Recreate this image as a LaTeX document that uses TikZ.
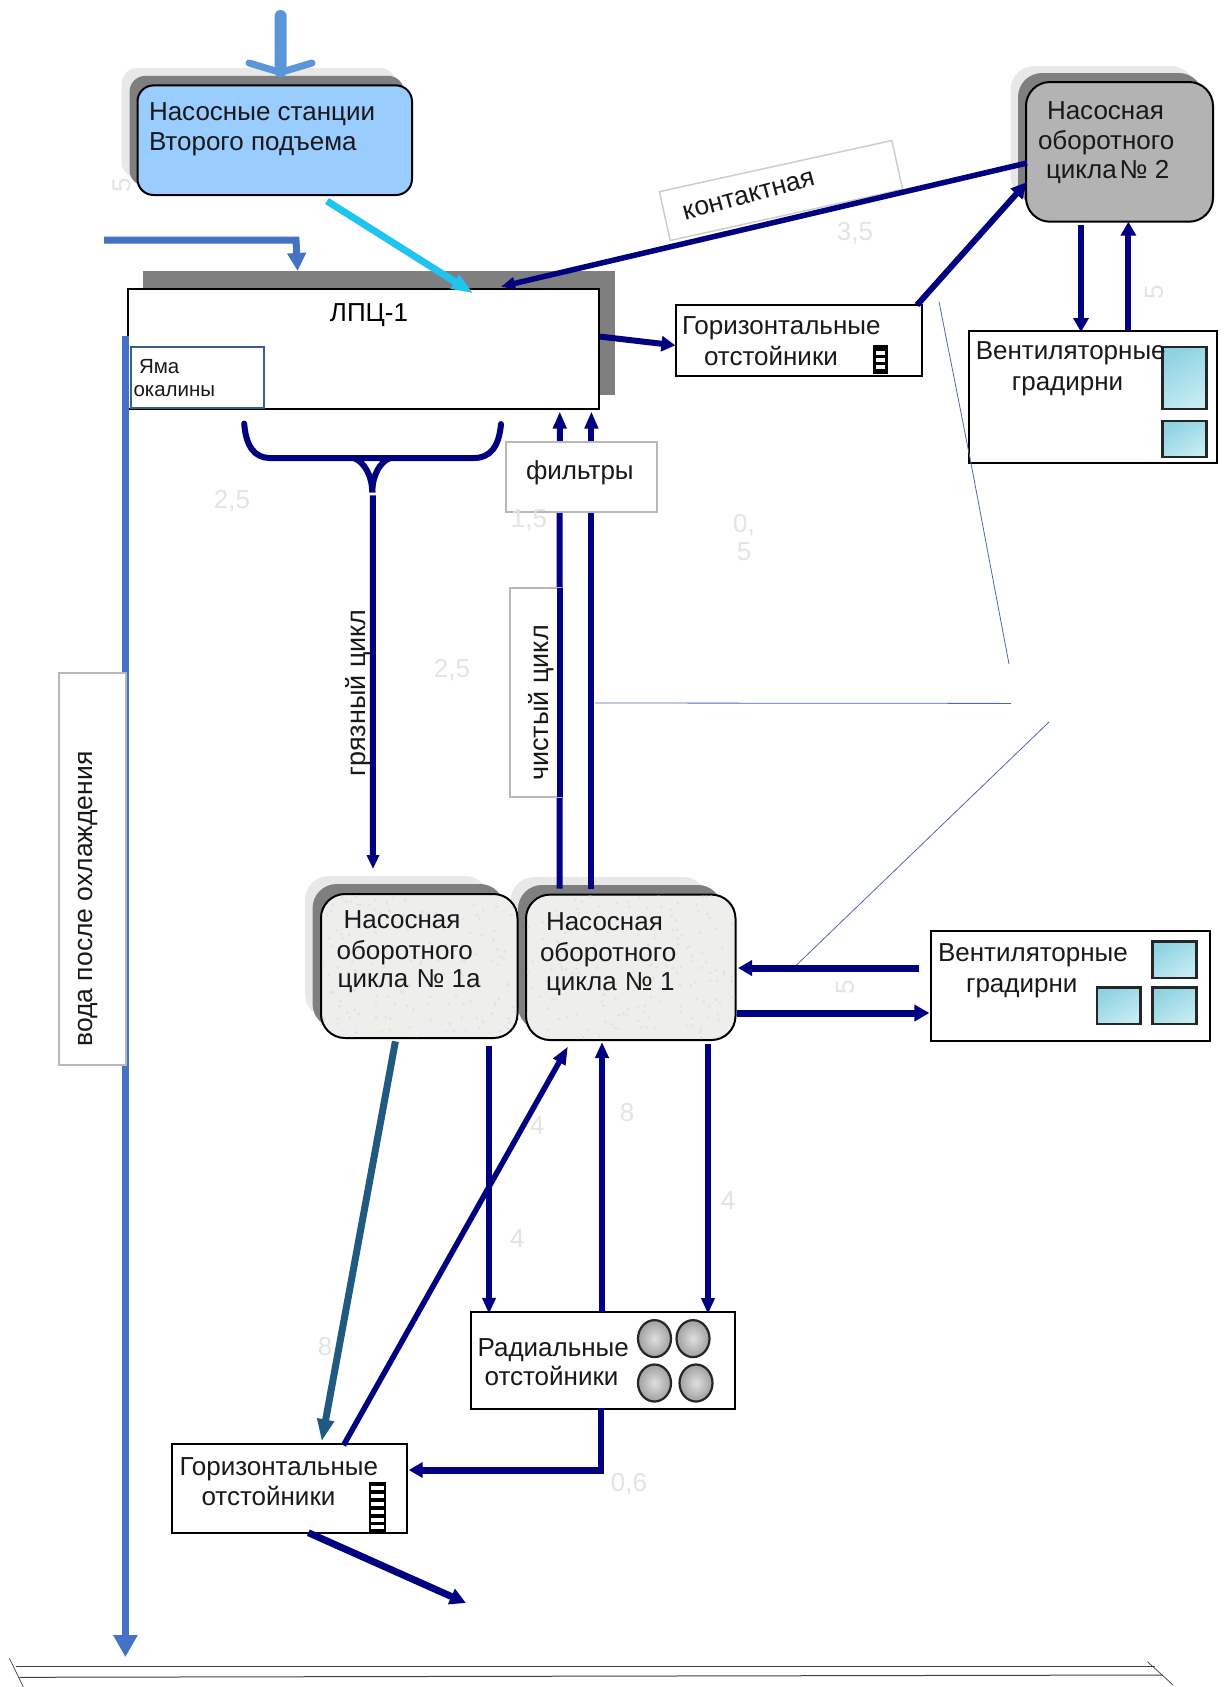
\documentclass[tikz,border=0pt]{standalone}
\usepackage{fontspec}
\setmainfont{Liberation Sans}
\usetikzlibrary{arrows.meta,calc}
\definecolor{navyflow}{HTML}{000080}
\definecolor{skyblue}{HTML}{99CCFF}
\definecolor{cyanflow}{HTML}{1FC5F0}
\definecolor{blueflow}{HTML}{4472C4}
\definecolor{topflow}{HTML}{5B96D8}
\definecolor{tealflow}{HTML}{215A80}
\definecolor{shadowdark}{HTML}{7F7F7F}
\definecolor{shadowhalo}{HTML}{E8E8E8}
\definecolor{thinblue}{HTML}{5068B0}
\definecolor{tilea}{HTML}{8FD2E2}
\definecolor{tileb}{HTML}{C4ECF2}
\definecolor{pumpgray}{HTML}{B3B3B3}
\definecolor{pumplight}{HTML}{EEEEEC}
\definecolor{framegray}{HTML}{B8B8B8}
\definecolor{ghostgray}{HTML}{E4E4E4}
\definecolor{pitblue}{HTML}{3A5F8A}
\newcommand\bx[6]{\pgfmathsetmacro\bw{#5-#3}\pgfmathsetmacro\bh{#6-#4}%
  \node[#2,anchor=north west,minimum width=\bw pt,minimum height=\bh pt,inner sep=0pt,outer sep=0pt] (#1) at (#3,#4) {};}
\tikzset{
  x=1pt,y=-1pt,
  txtsize/.style={font=\fontsize{26}{30}\selectfont},
  lbl/.style={txtsize,inner sep=0pt,outer sep=0pt,align=left,anchor=base west,text=black!90},
  vlbl/.style={font=\fontsize{27}{30}\selectfont,inner sep=0pt,outer sep=0pt,rotate=90,text=black!90},
  ghost/.style={font=\fontsize{26}{28}\selectfont,text=ghostgray,inner sep=0pt,align=center},
  plainbox/.style={draw=black,line width=2pt,fill=white},
  framebox/.style={draw=framegray,line width=2pt,fill=white},
  pumpbox/.style={draw=black,line width=2pt,rounded corners=24pt},
  tile/.style={draw=black!85,line width=2.2pt,left color=tilea,right color=tileb,shading angle=30},
  flow/.style={draw=navyflow,line width=6pt,-{Triangle[length=14pt,width=15pt]}},
  noflow/.style={draw=navyflow,line width=6pt},
  thin line/.style={draw=thinblue,line width=0.8pt},
  ground/.style={draw=black!75,line width=1pt},
}
\begin{document}
\begin{tikzpicture}
\useasboundingbox (0,0) rectangle (1224,1687);
\fill[white] (0,0) rectangle (1224,1687);

% shadows
\fill[shadowhalo,rounded corners=16pt] (121.6,68) rectangle (396,178);
\fill[shadowdark,rounded corners=16pt] (129.5,75.8) rectangle (404,186);
\fill[shadowhalo,rounded corners=24pt] (1010.5,66) rectangle (1195,200);
\fill[shadowdark,rounded corners=24pt] (1018,73) rectangle (1203,207);
\fill[shadowhalo,rounded corners=24pt] (305,876) rectangle (489,1018);
\fill[shadowdark,rounded corners=24pt] (312.6,884) rectangle (504,1028);
\fill[shadowhalo,rounded corners=24pt] (510.4,877) rectangle (707,1020);
\fill[shadowdark,rounded corners=24pt] (518,885) rectangle (722,1030);
\fill[shadowdark] (142.6,271) rectangle (615,395);

% main blocks
\bx{pumpA}{pumpbox,rounded corners=16pt,fill=skyblue}{137.5}{85.4}{412}{195}
\bx{lpc}{plainbox}{128.4}{288.6}{599}{409}
\bx{pit}{draw=pitblue,line width=2pt,fill=white}{130.7}{347}{264.4}{408.4}
\bx{pumpB}{pumpbox,fill=pumpgray}{1026}{82}{1213}{221.7}
\bx{pumpC}{pumpbox,fill=pumplight}{321}{894}{517.5}{1038}
\bx{pumpD}{pumpbox,fill=pumplight}{526}{894.6}{735.5}{1040}

% speckle on the concrete-like pump blocks
\pgfmathsetseed{7}
\begin{scope}
  \clip[rounded corners=24pt] (322,895) rectangle (516.5,1037);
  \foreach \i in {1,...,170} \fill[black!11] ({322+194*rnd},{895+142*rnd}) circle (1.6pt);
\end{scope}
\begin{scope}
  \clip[rounded corners=24pt] (527,895.6) rectangle (734.5,1039);
  \foreach \i in {1,...,180} \fill[black!11] ({527+207*rnd},{895+144*rnd}) circle (1.6pt);
\end{scope}

% thin lines
\coordinate (thinAa) at (939,301.7);
\coordinate (thinAb) at (1009,664);
\coordinate (thinBb) at (1011,703.4);
\coordinate (thinCa) at (1049,722);

% boxes
\node[framebox,draw=framegray!70,line width=1.5pt,rotate=12.4,minimum width=238pt,minimum height=50pt,inner sep=0pt] (contactbox) at (781,190.5) {};
\bx{settleA}{plainbox}{676.4}{305}{922}{375.7}
\bx{towerA}{plainbox}{969}{331}{1217}{463.3}
\bx{tileA}{tile}{1162.4}{347.3}{1206.4}{409}
\bx{tileB}{tile}{1162.4}{421}{1206.4}{457.3}
\bx{towerB}{plainbox}{931.4}{931}{1210}{1040.7}
\bx{tileC}{tile}{1152.4}{941.4}{1196.5}{978}
\bx{tileD}{tile}{1097}{987.5}{1140.5}{1024}
\bx{tileE}{tile}{1152.4}{987.5}{1196.5}{1024}
\bx{radial}{plainbox}{470.5}{1311.8}{735}{1409}
\bx{settleB}{plainbox}{171.7}{1444.3}{406.7}{1532.7}

% thin connector lines
\draw[thin line] (thinAa) -- ($(towerA.south west)+(2,0)$) -- (thinAb);
\draw[thin line] ($(lpc.south east)+(-4,294)$) -- (thinBb);
\draw[thin line] (thinCa) -- ($(towerB.north west)+(-138,37)$);

% left water line with its frame over it
\draw[draw=blueflow,line width=7pt,-{Triangle[length=22pt,width=23pt]}] ($(lpc.north west)+(-3,47)$) -- ++(0,1321.5) coordinate (outletA);
\bx{waterbox}{framebox}{58.5}{673}{126}{1065}

% ladder icons
\bx{ladderA}{fill=black}{872.5}{345}{888}{374}
\foreach \yy in {351,358,365} \fill[white] (875.5,\yy) rectangle (885,\yy+3.5);
\bx{ladderB}{fill=black}{368.5}{1481.7}{386.4}{1531.7}
\foreach \yy in {1486,1494,1502,1510,1518,1525} \fill[white] (371,\yy) rectangle (384,\yy+4);

% round settlers
\foreach \nm/\cx/\cy in {c1/654.5/1338.6,c2/693/1338.6,c3/654.5/1383,c4/696/1383}
  \shade[draw=black!85,line width=2.2pt,inner color=gray!25,outer color=gray!75] (\cx,\cy) ellipse [x radius=16.5pt,y radius=18.5pt];

% connectors
\draw[flow] ($(lpc.north east)+(1,48)$) -- ($(settleA.west)+(-1,5)$);
\draw[noflow,line width=5.5pt,{Triangle[length=14pt,width=12pt]}-] ($(lpc.north west)+(372.6,-2)$) -- ($(pumpB.north west)+(1,81)$);
\draw[noflow,-{Triangle[length=16pt,width=15pt]}] ($(settleA.north east)+(-5,0)$) -- ($(pumpB.north west)+(1,100)$);
\draw[flow] ($(pumpB.south west)+(55,3)$) -- ($(towerA.north west)+(112,1)$);
\draw[flow] ($(towerA.north west)+(159.4,0)$) -- ($(pumpB.south west)+(102.4,0)$);

% brace and dirty cycle
\coordinate (braceL) at (244.2,423.6);
\coordinate (braceR) at (501,424);
\coordinate (braceC) at (372.3,492.4);
\draw[draw=navyflow,line width=6pt,line cap=round] (braceL) .. controls (246,447) and (255,458) .. (270,458) -- (474,458) .. controls (490,458) and (499,447) .. (braceR);
\draw[draw=navyflow,line width=6pt] (354,458) .. controls (364,462) and (372,475) .. (braceC);
\draw[draw=navyflow,line width=6pt] (390,458) .. controls (380,462) and (372.3,475) .. (braceC);
\draw[draw=navyflow,line width=6pt,-{Triangle[length=14pt,width=12pt]}] ($(braceC)+(0.5,3)$) -- ($(pumpC.north west)+(52,-25)$);

% clean cycle
\draw[draw=navyflow,line width=6pt,-{Triangle[length=17pt,width=13pt]}] ($(pumpD.north west)+(33.5,-6)$) -- ($(lpc.south east)+(-39.2,2.5)$);
\draw[draw=navyflow,line width=6pt,-{Triangle[length=17pt,width=13pt]}] ($(pumpD.north west)+(65.4,-6)$) -- ($(lpc.south east)+(-7.6,2.5)$);
\bx{filters}{framebox}{506}{441.8}{656.6}{512}
\bx{cleanbox}{framebox}{510}{588}{561}{797}
\draw[draw=navyflow,line width=6pt] ($(cleanbox.north east)+(-1.2,0)$) -- ($(cleanbox.south east)+(-1.2,0)$);

% pump D connections
\draw[draw=navyflow,line width=7pt,-{Triangle[length=14pt,width=15pt]}] ($(towerB.north west)+(-12,37)$) -- ($(pumpD.east)+(2.5,0.7)$);
\draw[draw=navyflow,line width=7pt,-{Triangle[length=15pt,width=16pt]}] ($(pumpD.south east)+(1,-27)$) -- ($(towerB.north west)+(-2,82)$);
\draw[draw=tealflow,line width=7pt,-{Triangle[length=22pt,width=16pt]}] ($(pumpC.south west)+(74.4,3.4)$) -- ($(settleB.north west)+(150,-3)$);
\draw[draw=navyflow,line width=6pt,-{Triangle[length=16pt,width=13pt]}] ($(pumpC.south east)+(-28.5,8.4)$) -- ($(radial.north west)+(18.5,2)$);
\draw[draw=navyflow,line width=5.5pt,-{Triangle[length=18pt,width=13pt]}] ($(settleB.north west)+(171.8,1)$) -- ($(pumpD.south west)+(42,6.4)$);
\draw[draw=navyflow,line width=6pt,-{Triangle[length=16pt,width=13pt]}] ($(radial.north west)+(131.5,0)$) -- ($(pumpD.south west)+(76,2)$);
\draw[draw=navyflow,line width=6pt,-{Triangle[length=16pt,width=13pt]}] ($(pumpD.south east)+(-27.5,4)$) -- ($(radial.north east)+(-27,2.2)$);
\draw[draw=navyflow,line width=6pt] ($(radial.south west)+(130.5,-1)$) -- (601,1470);
\draw[draw=navyflow,line width=7pt,-{Triangle[length=14pt,width=15pt]}] (604,1470) -- ($(settleB.north east)+(2,25.7)$);
\draw[draw=navyflow,line width=7pt,-{Triangle[length=16pt,width=16pt]}] ($(settleB.south west)+(136.7,0)$) -- (466,1603) coordinate (outletB);

% input arrows
\coordinate (topStart) at (280.6,16);
\coordinate (sideStart) at (104,240);
\draw[draw=topflow,line width=12pt,line cap=round] (topStart) -- ($(pumpA.north west)+(143,-14)$);
\draw[draw=topflow,line width=7pt,line cap=round] (249,63) -- ($(pumpA.north west)+(143,-13)$) -- (312,63);
\draw[draw=cyanflow,line width=7pt,-{Triangle[length=22pt,width=15pt]}] ($(pumpA.south west)+(189.5,6)$) -- ($(lpc.north west)+(345,4.8)$);
\draw[draw=blueflow,line width=7pt,-{Triangle[length=18pt,width=18pt]}] (sideStart) -- (296,240) -- ($(lpc.north west)+(169.2,-17.6)$);

% ground
\coordinate (gA) at (15.6,1666);
\coordinate (gB) at (1155,1666);
\coordinate (gC) at (19.5,1677.3);
\coordinate (gD) at (1163,1675);
\coordinate (gE) at (9.4,1658.3);
\coordinate (gF) at (23.4,1687);
\coordinate (gG) at (1147.5,1661.7);
\coordinate (gH) at (1173,1685);
\draw[ground] (gA) -- (gB);
\draw[ground] (gC) -- (gD);
\draw[ground,line width=0.7pt] (gE) -- (gF);
\draw[ground,line width=0.7pt] (gG) -- (gH);

% labels (anchored at the baseline of the last line)
\node[lbl] (tPumpA) at (149,150.5) {Насосные станции\\Второго подъема};
\node[txtsize,inner sep=0pt] (tLpc) at (369,315) {ЛПЦ-1};
\node[lbl,font=\fontsize{20.5}{23}\selectfont] (tPit) at (133.5,396.7) {\hspace*{5.5pt}Яма\\окалины};
\node[lbl] (tPumpB) at (1046,178) {\hspace*{1pt}Насосная\\[-0.5pt]\hspace*{-8pt}оборотного\\[-1pt]цикла\hspace{3pt}№ 2};
\node[lbl,rotate=15,font=\fontsize{26.5}{30}\selectfont] (tContact) at (685,220) {контактная};
\node[lbl] (tSettleA) at (682,365) {Горизонтальные\\[1pt]\hspace*{22pt}отстойники};
\node[lbl] (tTowerA) at (975.8,390) {Вентиляторные\\[1pt]\hspace*{36pt}градирни};
\node[lbl] (tFilters) at (526,479) {фильтры};
\node[vlbl] (tDirty) at (358,693) {грязный цикл};
\node[vlbl] (tClean) at (541,703) {чистый цикл};
\node[vlbl,font=\fontsize{26.5}{30}\selectfont] (tWater) at (88,899) {вода после охлаждения};
\node[lbl] (tPumpC) at (343.6,987.5) {Насосная\\[0.5pt]\hspace*{-7pt}оборотного\\[-1.5pt]\hspace*{-6pt}цикла \hspace{1pt}№ 1а};
\node[lbl] (tPumpD) at (546,990) {Насосная\\[1pt]\hspace*{-6pt}оборотного\\[-1.5pt]цикла \hspace{1pt}№ 1};
\node[lbl] (tTowerB) at (938,992) {Вентиляторные\\[0.5pt]\hspace*{28pt}градирни};
\node[lbl] (tRadial) at (477.6,1385.7) {Радиальные\\[-0.5pt]\hspace*{7pt}отстойники};
\node[lbl] (tSettleB) at (179.5,1505) {Горизонтальные\\\hspace*{22pt}отстойники};

% faint figures
\node[ghost,rotate=90] (g1) at (121.5,185) {5};
\node[ghost] (g2) at (855,233) {3,5};
\node[ghost,rotate=90] (g3) at (1154,292) {5};
\node[ghost] (g4) at (232,501) {2,5};
\node[ghost] (g5) at (529,520) {1,5};
\node[ghost] (g6) at (744,538) {0,\\5};
\node[ghost] (g7) at (452,670) {2,5};
\node[ghost,rotate=90] (g8) at (845,987) {5};
\node[ghost] (g9) at (537,1126) {4};
\node[ghost] (g10) at (627,1113) {8};
\node[ghost] (g11) at (728,1201) {4};
\node[ghost] (g12) at (517,1239) {4};
\node[ghost] (g13) at (325,1347) {8};
\node[ghost] (g14) at (629,1484) {0,6};
\end{tikzpicture}
\end{document}
